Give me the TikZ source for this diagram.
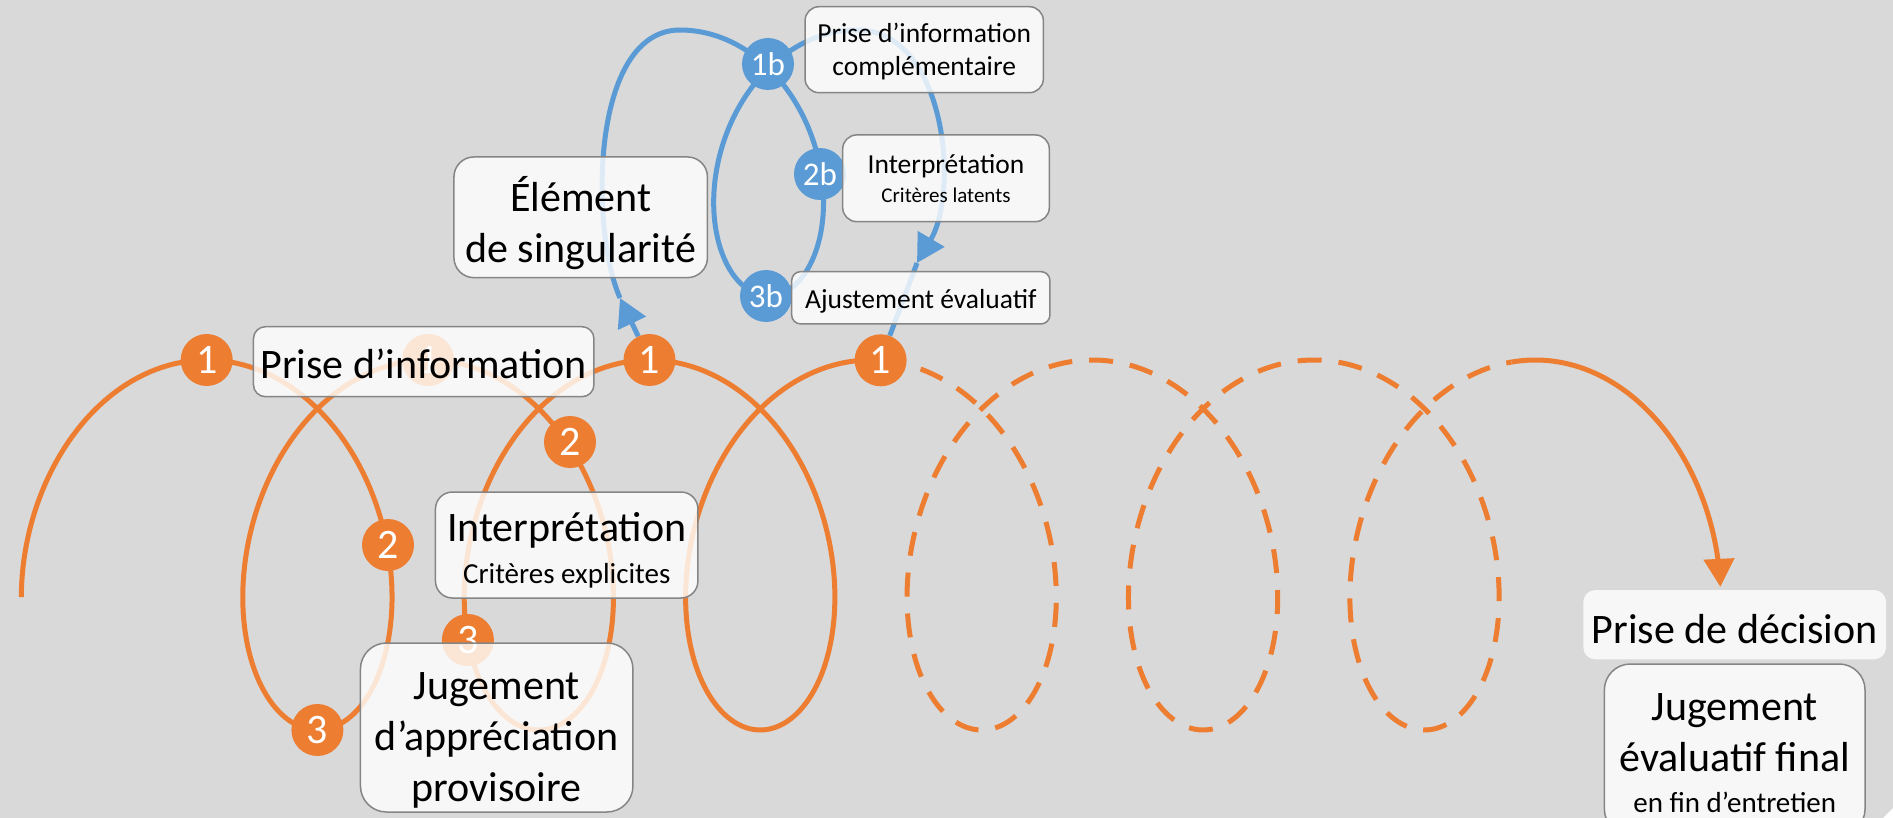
\documentclass[tikz,border=0pt]{standalone}
\usepackage{fontspec}
\setmainfont{Carlito}
\usetikzlibrary{arrows.meta}
\definecolor{bg}{HTML}{D9D9D9}
\definecolor{org}{HTML}{ED7D31}
\definecolor{blu}{HTML}{5B9BD5}
\definecolor{bord}{HTML}{858585}
\newcommand\szBig{\fontsize{42}{51}\selectfont}
\newcommand\szMid{\fontsize{29}{35}\selectfont}
\newcommand\szBlue{\fontsize{27.5}{33}\selectfont}
\newcommand\szBlueS{\fontsize{21}{25}\selectfont}
\newcommand\szNum{\fontsize{42}{42}\selectfont}
\newcommand\szBNum{\fontsize{33}{33}\selectfont}
\pgfdeclarelayer{bglayer}
\pgfdeclarelayer{curves}
\pgfsetlayers{bglayer,curves,main}
\begin{document}
\begin{tikzpicture}[x=1pt,y=-1pt,
  declare function={ox(\t)=206.7+35.24*\t+125*sin(deg(\t));
                    oy(\t)=545-185*cos(deg(\t));
                    bx(\t)=680+28.2*\t+95*sin(deg(\t));
                    by(\t)=163-133*cos(deg(\t));},
  oline/.style={draw=org,line width=5pt,line join=round},
  bline/.style={draw=blu,line width=5pt,line join=round},
  tip/.style={-{Triangle[length=28pt,width=30pt]}},
  box/.style={draw=bord,line width=1.5pt,fill=white,fill opacity=0.8,text opacity=1,draw opacity=1,
              inner sep=0pt,align=center,text=black},
  boxnb/.style={fill=white,fill opacity=0.8,text opacity=1,inner sep=0pt,align=center,text=black},
  num/.style={circle,fill=org,text=white,minimum size=52pt,inner sep=0pt,font=\szNum},
  bnum/.style={circle,fill=blu,text=white,minimum size=52pt,inner sep=0pt,font=\szBNum}]
\useasboundingbox (0,0) rectangle (1893,818);
\begin{pgfonlayer}{bglayer}
\fill[bg] (0,0) rectangle (1893,818);
\end{pgfonlayer}

% orange spiral
\begin{pgfonlayer}{curves}
\draw[oline] plot[domain=-1.8566:18.91,samples=500,variable=\t] ({ox(\t)},{oy(\t)});
\draw[oline,dash pattern=on 24pt off 17pt] plot[domain=18.91:37.55,samples=500,variable=\t] ({ox(\t)},{oy(\t)});
\draw[oline,tip] plot[domain=37.55:39.499,samples=60,variable=\t] ({ox(\t)},{oy(\t)});
\end{pgfonlayer}

% orange circles
\node[num] (o1a) at (206.7,360) {1};
\node[num] (o2a) at (388,545) {2};
\node[num] (o3a) at (317.4,730) {3};
\node[num] (o1b) at (428.1,360) {1};
\node[num] (o2b) at (570,442) {2};
\node[num] (o3b) at (467.9,640) {3};
\node[num] (o1c) at (649.5,360) {1};
\node[num] (o1d) at (880.6,360.3) {1};

% blue circles
\node[bnum] (b1) at (768,64) {1b};
\node[bnum] (b2) at (820,174) {2b};
\node[bnum] (b3) at (766,296) {3b};

% blue loop
\coordinate (bt1) at (620,298);
\coordinate (bs) at (680,30);
\coordinate (be) at (857.2,30);
\coordinate (bt2) at (917,263);
\begin{pgfonlayer}{curves}
\draw[bline,tip] (o1c) -- (bt1);
\draw[bline] (bt1) .. controls (590,230) and (590,30) .. (bs);
\draw[bline] plot[domain=0:6.2832,samples=220,variable=\t] ({bx(\t)},{by(\t)});
\draw[bline,tip] (be) .. controls (945,30) and (960,190) .. (bt2);
\draw[bline] (bt2) -- (o1d);
\end{pgfonlayer}

% boxes
\node[box,minimum width=340.5pt,minimum height=70pt,rounded corners=12pt,font=\szBig] (pinfo) at (423.7,361.7) {\rule{0pt}{33pt}Prise d’information};
\node[box,minimum width=262.5pt,minimum height=106pt,rounded corners=17pt,font=\szBig] (interp) at (566.7,545) {\rule{0pt}{40pt}Interprétation\\[-9pt]{\szMid Critères explicites}};
\node[box,minimum width=272.5pt,minimum height=169pt,rounded corners=26pt,font=\szBig] (jug) at (496.7,727.5) {\rule{0pt}{52pt}Jugement\\d’appréciation\\provisoire};
\node[box,minimum width=253.5pt,minimum height=120.7pt,rounded corners=20pt,font=\szBig] (elem) at (580.7,217.3) {\rule{0pt}{46pt}Élément\\de singularité};
\node[box,minimum width=238.3pt,minimum height=86pt,rounded corners=14pt,font=\szBlue] (pcomp) at (924.2,49.7) {\rule{0pt}{24pt}Prise d’information\\complémentaire};
\node[box,minimum width=206.6pt,minimum height=86.7pt,rounded corners=14pt,font=\szBlue] (ilat) at (946,178.3) {Interprétation\\[-4pt]{\szBlueS Critères latents}};
\node[box,minimum width=258.3pt,minimum height=52.3pt,rounded corners=9pt,font=\szBlue] (ajust) at (920.8,297.8) {\rule{0pt}{26pt}Ajustement évaluatif};
\node[boxnb,minimum width=302.7pt,minimum height=69.3pt,rounded corners=12pt,font=\szBig] (pdec) at (1734.7,624.7) {\rule{0pt}{37pt}Prise de décision};
\node[box,minimum width=260.7pt,minimum height=171pt,rounded corners=26pt,font=\szBig] (jfin) at (1734.7,749.5) {\rule{0pt}{34pt}Jugement\\évaluatif final\\[-9.5pt]{\szMid en fin d’entretien}};

\fill[white] (1883,818) -- (1893,808) -- (1893,818) -- cycle;
\end{tikzpicture}
\end{document}
